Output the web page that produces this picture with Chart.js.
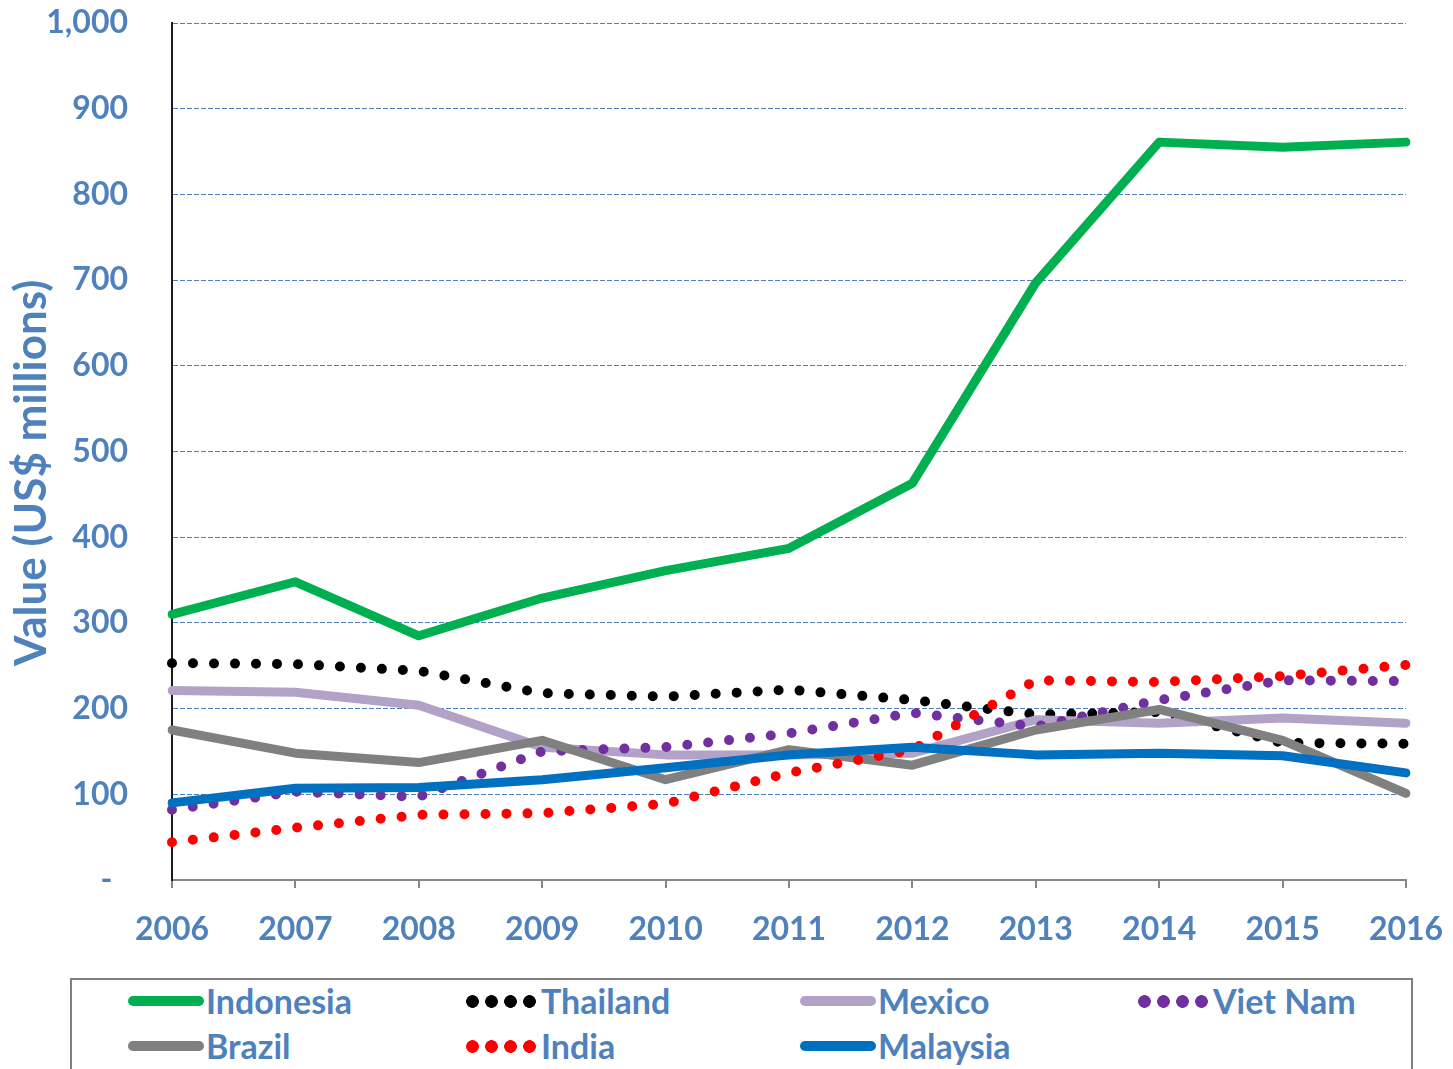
<!DOCTYPE html>
<html>
<head>
<meta charset="utf-8">
<script src="https://cdn.jsdelivr.net/npm/chart.js@4/dist/chart.umd.min.js"></script>
<style>
    body { margin: 0; background: #fff; width: 1453px; height: 1069px; overflow: hidden; position: relative; font-family: Lato, sans-serif; }
    #chart_wrap { position: absolute; left: 0; top: 0; width: 1453px; height: 960px; }
    #legend_box { position: absolute; left: 70px; top: 978px; width: 1343px; height: 120px; border: 2px solid #7f7f7f; box-sizing: border-box; }
    .item { position: absolute; height: 44px; display: flex; align-items: center; }
    .sample { width: 76px; height: 13px; margin-right: 2px; }
    .item span { color: #4F81BD; font-weight: bold; font-size: 34px; line-height: 44px; }
</style>
</head>
<body>
<div id="chart_wrap"><canvas id="trade_chart" width="1453" height="960"></canvas></div>
<div id="legend_box"></div>
<script>
'use strict';

const years = ['2006', '2007', '2008', '2009', '2010', '2011', '2012', '2013', '2014', '2015', '2016'];

const indonesia = [310, 348, 285, 329, 361, 387, 463, 697, 861, 855, 861];
const thailand = [253, 252, 244, 218, 214, 222, 210, 193, 196, 160, 159];
const mexico = [221, 219, 204, 155, 146, 146, 148, 187, 183, 189, 183];
const viet_nam = [82, 103, 97, 150, 155, 171, 195, 179, 210, 233, 232];
const brazil = [175, 148, 137, 163, 117, 152, 134, 175, 199, 163, 101];
const india = [44, 61, 76, 78, 89, 125, 152, 233, 231, 238, 251];
const malaysia = [90, 107, 108, 117, 131, 146, 155, 146, 148, 145, 125];

const names = ['Indonesia', 'Thailand', 'Mexico', 'Viet Nam', 'Brazil', 'India', 'Malaysia'];
const series = [indonesia, thailand, mexico, viet_nam, brazil, india, malaysia];
const colors = ['#00B050', '#000000', '#B3A2C7', '#7030A0', '#808080', '#FF0000', '#0070C0'];
const dotted = [false, true, false, true, false, true, false];

const blue = '#4F81BD';
const tickFont = { family: 'Lato', weight: 'bold', size: 32 };

const datasets = [];
for (let i = 0; i < names.length; i++) {
    datasets.push({
        label: names[i],
        data: series[i],
        borderColor: colors[i],
        backgroundColor: colors[i],
        borderWidth: dotted[i] ? 10 : 9,
        borderDash: dotted[i] ? [0, 21] : [],
        borderCapStyle: 'round',
        borderJoinStyle: 'round',
        pointRadius: 0,
        tension: 0,
        fill: false,
        order: names.length - i,
    });
}

let tradeChart = new Chart(
    document.querySelector('#trade_chart'), {
        type: 'line',
        data: {
            labels: years,
            datasets: datasets,
        },
        options: {
            responsive: false,
            animation: false,
            devicePixelRatio: 1,
            layout: { padding: { top: 23, right: 47, bottom: 0, left: 0 } },
            plugins: {
                legend: { display: false },
                tooltip: { enabled: false },
            },
            scales: {
                x: {
                    afterFit: (scale) => {
                        scale.height = 80;
                        scale.paddingLeft = 0;
                        scale.paddingRight = 0;
                    },
                    grid: {
                        drawOnChartArea: false,
                        drawTicks: true,
                        tickLength: 8,
                        color: '#868686',
                        lineWidth: 2,
                    },
                    border: { color: '#868686', width: 2 },
                    ticks: {
                        color: blue,
                        font: tickFont,
                        padding: 22,
                        maxRotation: 0,
                    },
                },
                y: {
                    min: 0,
                    max: 1000,
                    afterFit: (scale) => {
                        scale.width = 172;
                        scale.paddingTop = 0;
                        scale.paddingBottom = 0;
                    },
                    grid: {
                        drawTicks: false,
                        color: (ctx) => ctx.tick && ctx.tick.value === 0 ? 'rgba(0,0,0,0)' : blue,
                        lineWidth: 1,
                    },
                    border: { color: '#1a1a1a', width: 2, dash: [5, 2] },
                    ticks: {
                        stepSize: 100,
                        color: blue,
                        font: tickFont,
                        padding: 44,
                        callback: (v) => v === 0 ? '-  ' : v.toLocaleString('en-US'),
                    },
                    title: {
                        display: true,
                        text: 'Value (US$ millions)    ',
                        color: blue,
                        font: { family: 'Lato', weight: 'bold', size: 44 },
                        padding: { top: 5, bottom: 0 },
                    },
                },
            },
        },
    }
);

// legend, built from the chart datasets
const legendBox = document.querySelector('#legend_box');
const colX = [56, 391, 728, 1063];
tradeChart.data.datasets.forEach((ds, i) => {
    const item = document.createElement('div');
    item.className = 'item';
    item.style.left = colX[i % 4] + 'px';
    item.style.top = (i < 4 ? -1 : 44) + 'px';
    const sample = document.createElement('div');
    sample.className = 'sample';
    if (dotted[i]) {
        sample.style.background = 'radial-gradient(circle, ' + ds.borderColor + ' 6px, rgba(0,0,0,0) 6.7px) 0 0 / 19px 13px repeat-x';
    } else {
        sample.style.background = ds.borderColor;
        sample.style.height = '10px';
        sample.style.borderRadius = '5px';
    }
    const text = document.createElement('span');
    text.textContent = ds.label;
    item.appendChild(sample);
    item.appendChild(text);
    legendBox.appendChild(item);
});
</script>
</body>
</html>
